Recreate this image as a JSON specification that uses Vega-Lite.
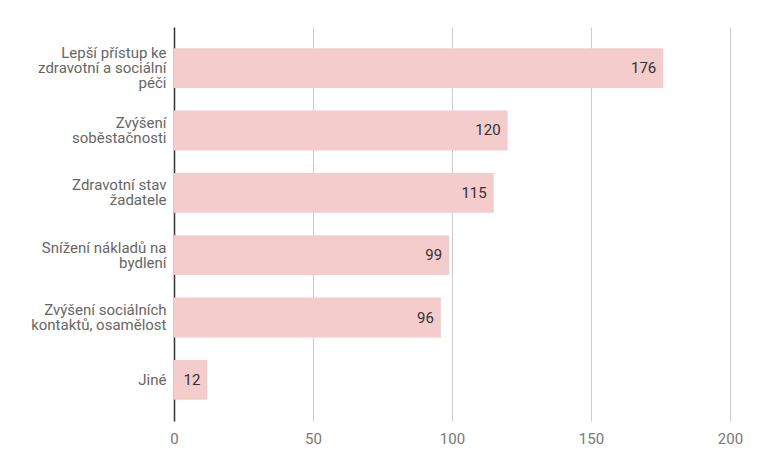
{
  "$schema": "https://vega.github.io/schema/vega-lite/v6.json",
  "width": 556,
  "height": 394,
  "autosize": {"type": "none"},
  "padding": {"left": 174, "top": 27, "right": 27, "bottom": 51},
  "background": "white",
  "config": {
    "view": {"stroke": null},
    "font": "Roboto"
  },
  "data": {
    "values": [
      {"kategorie": "Lepší přístup ke\nzdravotní a sociální\npéči", "pocet": 176},
      {"kategorie": "Zvýšení\nsoběstačnosti", "pocet": 120},
      {"kategorie": "Zdravotní stav\nžadatele", "pocet": 115},
      {"kategorie": "Snížení nákladů na\nbydlení", "pocet": 99},
      {"kategorie": "Zvýšení sociálních\nkontaktů, osamělost", "pocet": 96},
      {"kategorie": "Jiné", "pocet": 12}
    ]
  },
  "encoding": {
    "y": {
      "field": "kategorie",
      "type": "nominal",
      "sort": null,
      "title": null,
      "scale": {"paddingInner": 0.36, "paddingOuter": 0.34},
      "axis": {
        "labelExpr": "split(datum.value, '\\n')",
        "labelFont": "Roboto",
        "labelFontSize": 15,
        "labelLineHeight": 15,
        "labelBaseline": "middle",
        "labelOffset": {
          "condition": [
            {"test": "length(split(datum.value, '\\n')) == 3", "value": -15},
            {"test": "length(split(datum.value, '\\n')) == 2", "value": -7.5}
          ],
          "value": 0
        },
        "labelColor": "#666666",
        "labelPadding": 8,
        "ticks": false,
        "domain": true,
        "domainColor": "#333333",
        "domainWidth": 1.5,
        "grid": false,
        "labelLimit": 300
      }
    },
    "x": {
      "field": "pocet",
      "type": "quantitative",
      "title": null,
      "scale": {"domain": [0, 200], "nice": false},
      "axis": {
        "values": [0, 50, 100, 150, 200],
        "domain": false,
        "ticks": false,
        "grid": true,
        "gridColor": "#cccccc",
        "labelFont": "Roboto",
        "labelFontSize": 15,
        "labelColor": "#777777",
        "labelPadding": 10,
        "labelFlush": false
      }
    }
  },
  "layer": [
    {
      "mark": {"type": "bar", "color": "#f4cccc"}
    },
    {
      "mark": {"type": "text", "align": "right", "baseline": "middle", "dx": -7, "fontSize": 15, "font": "Roboto", "color": "#333333"},
      "encoding": {"text": {"field": "pocet", "type": "quantitative"}}
    }
  ]
}
